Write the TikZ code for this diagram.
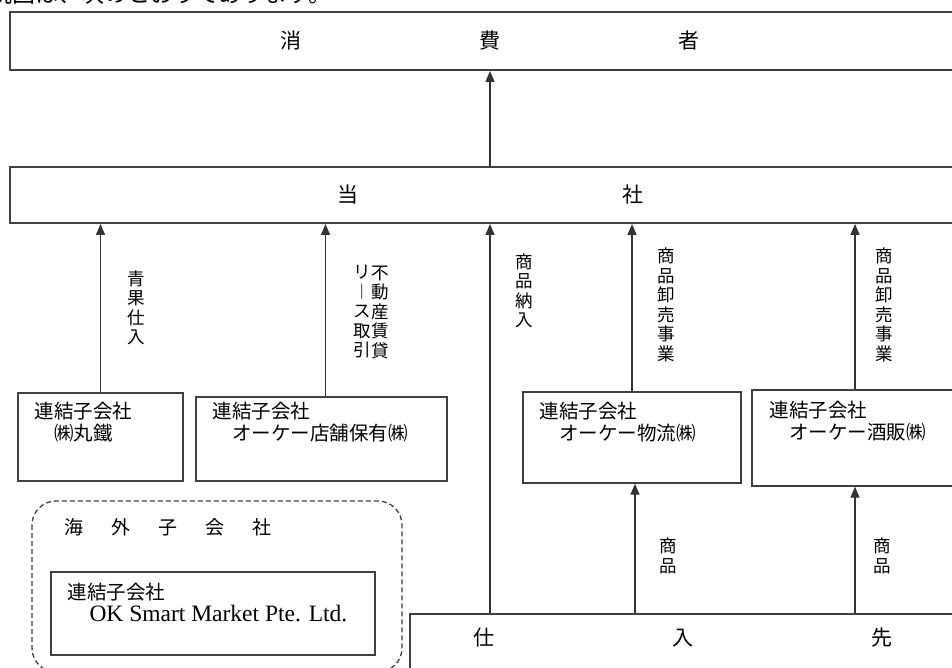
\documentclass[tikz,border=0pt]{standalone}
\usepackage{fontspec}
\setmainfont{Noto Sans CJK JP}
\newfontfamily\romanfont{Liberation Serif}
\usetikzlibrary{arrows.meta,positioning}
\tikzset{
	box/.style={draw=black!75,line width=1.4pt,inner sep=0pt},
	widebox/.style={box,line width=1.9pt,minimum width=960pt,font=\fontsize{21}{24}\selectfont},
	boxtext/.style={anchor=north west,inner sep=0pt,align=left,font=\fontsize{19.5}{22}\selectfont},
	tate/.style={inner sep=0pt,align=center,font=\fontsize{17.5}{19.5}\selectfont},
	flow/.style={draw=black!80,line width=1.4pt,-{Triangle[length=11pt,width=9pt]}},
	dashbox/.style={draw=black!75,line width=1.3pt,dash pattern=on 5pt off 3pt,rounded corners=24pt},
}
\begin{document}
\begin{tikzpicture}[x=1pt,y=-1pt]
	\useasboundingbox (0,0) rectangle (952,667);
	\clip (0,0) rectangle (952,667);
	\node[anchor=base west,inner sep=0pt,font=\fontsize{23}{23}\selectfont] (intro) at (-11,2) {統図は、次のとおりであります。};
	% consumers and the company
	\node[widebox,minimum height=58pt] (consumer) at (490,41) {消\hspace{178pt}費\hspace{178pt}者};
	\node[widebox,minimum height=56pt] (tousha) at (490,195) {当\hspace{264pt}社};
	% subsidiaries
	\node[box,minimum width=165pt,minimum height=88pt] (marutetsu) at (100.5,437) {};
	\node[boxtext] (marutetsu-t) at ([xshift=17pt,yshift=-10pt]marutetsu.north west) {連結子会社\\\hspace{1em}㈱丸鐵};
	\node[box,minimum width=251pt,minimum height=84pt] (tenpo) at (321.5,439) {};
	\node[boxtext] (tenpo-t) at ([xshift=17pt,yshift=-6pt]tenpo.north west) {連結子会社\\\hspace{1em}オーケー店舗保有㈱};
	\node[box,minimum width=218pt,minimum height=91pt] (butsuryu) at (632,437.5) {};
	\node[boxtext] (butsuryu-t) at ([xshift=17pt,yshift=-11pt]butsuryu.north west) {連結子会社\\\hspace{1em}オーケー物流㈱};
	\node[box,minimum width=206pt,minimum height=96pt] (shuhan) at (855,438) {};
	\node[boxtext] (shuhan-t) at ([xshift=18pt,yshift=-12pt]shuhan.north west) {連結子会社\\\hspace{1em}オーケー酒販㈱};
	% overseas
	\draw[dashbox] (32,501) rectangle (402,672);
	\node[font=\fontsize{19}{22}\selectfont] (kaigai) at (168,527) {海\hspace{28pt}外\hspace{28pt}子\hspace{28pt}会\hspace{28pt}社};
	\node[box,minimum width=324pt,minimum height=83pt] (okmarket) at (213,613.5) {};
	\node[boxtext] (okmarket-t) at ([xshift=17pt,yshift=-12pt]okmarket.north west) {連結子会社\\\hspace{22pt}{\romanfont\fontsize{23.5}{23}\selectfont OK Smart Market Pte. Ltd.}};
	% suppliers
	\node[box,minimum width=560pt,minimum height=86pt] (shiire) at (690,657) {};
	\node[font=\fontsize{21}{24}\selectfont] (shiire-t) at (683,638) {仕\hspace{178pt}入\hspace{178pt}先};
	% arrows
	\draw[flow] (tousha.north) -- (consumer.south);
	\draw[flow] (marutetsu.north) -- (marutetsu.north |- tousha.south);
	\draw[flow] ([xshift=4pt]tenpo.north) -- ([xshift=4pt]tenpo.north |- tousha.south);
	\draw[flow] (butsuryu.north) -- (butsuryu.north |- tousha.south);
	\draw[flow] (shuhan.north) -- (shuhan.north |- tousha.south);
	\draw[flow] (shiire.north -| tousha.south) -- (tousha.south);
	\draw[flow] ([xshift=3pt]shiire.north -| butsuryu.south) -- ([xshift=3pt]butsuryu.south);
	\draw[flow] (shiire.north -| shuhan.south) -- (shuhan.south);
	% labels
	\node[tate] (l-seika) at (136,308) {青\\果\\仕\\入};
	\node[tate] (l-fudosan) at (380,312) {不\\動\\産\\賃\\貸};
	\node[tate] (l-lease) at (362,312) {リ\\︱\\ス\\取\\引};
	\node[tate] (l-nounyu) at (524,291) {商\\品\\納\\入};
	\node[tate] (l-oroshi1) at (666,305) {商\\品\\卸\\売\\事\\業};
	\node[tate] (l-oroshi2) at (884,305) {商\\品\\卸\\売\\事\\業};
	\node[tate] (l-shohin1) at (668,556) {商\\品};
	\node[tate] (l-shohin2) at (882,556) {商\\品};
\end{tikzpicture}
\end{document}
